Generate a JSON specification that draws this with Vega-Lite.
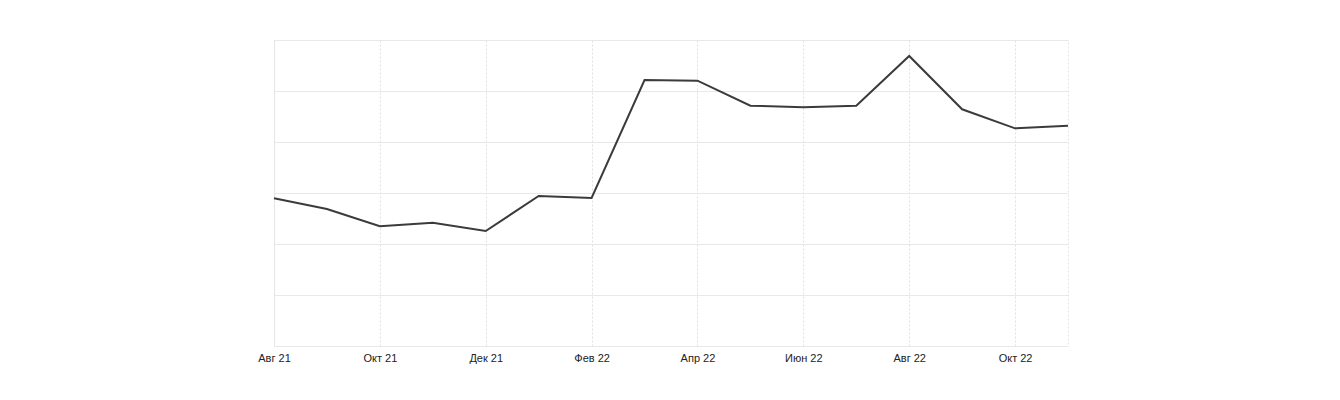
{
  "$schema": "https://vega.github.io/schema/vega-lite/v6.json",
  "width": 794,
  "height": 306,
  "autosize": {"type": "none"},
  "padding": {"left": 274, "top": 40, "right": 272, "bottom": 54},
  "background": "white",
  "config": {
    "view": {"stroke": "#e4e4e4", "strokeDash": [2, 2], "strokeWidth": 1}
  },
  "data": {
    "values": [
      {"m": "Авг 21", "v": 2.896},
      {"m": "Сен 21", "v": 2.686},
      {"m": "Окт 21", "v": 2.347},
      {"m": "Ноя 21", "v": 2.418},
      {"m": "Дек 21", "v": 2.255},
      {"m": "Янв 22", "v": 2.941},
      {"m": "Фев 22", "v": 2.902},
      {"m": "Мар 22", "v": 5.216},
      {"m": "Апр 22", "v": 5.203},
      {"m": "Май 22", "v": 4.712},
      {"m": "Июн 22", "v": 4.68},
      {"m": "Июл 22", "v": 4.712},
      {"m": "Авг 22", "v": 5.686},
      {"m": "Сен 22", "v": 4.641},
      {"m": "Окт 22", "v": 4.268},
      {"m": "Ноя 22", "v": 4.32}
    ]
  },
  "mark": {"type": "line", "color": "#3b3b3b", "strokeWidth": 2},
  "encoding": {
    "x": {
      "field": "m",
      "type": "ordinal",
      "sort": null,
      "scale": {"type": "point", "padding": 0},
      "axis": {
        "title": null,
        "values": ["Авг 21", "Окт 21", "Дек 21", "Фев 22", "Апр 22", "Июн 22", "Авг 22", "Окт 22"],
        "labelAngle": 0,
        "labelFont": "Liberation Sans",
        "labelFontSize": 11,
        "labelColor": "#222222",
        "labelPadding": 6,
        "ticks": false,
        "domain": false,
        "grid": true,
        "gridColor": "#e0e0e0",
        "gridDash": [2, 2],
        "gridWidth": 1
      }
    },
    "y": {
      "field": "v",
      "type": "quantitative",
      "scale": {"domain": [0, 6], "nice": false},
      "axis": {
        "title": null,
        "labels": false,
        "ticks": false,
        "domain": false,
        "values": [0, 1, 2, 3, 4, 5, 6],
        "grid": true,
        "gridColor": "#e8e8e8",
        "gridWidth": 1
      }
    }
  }
}
